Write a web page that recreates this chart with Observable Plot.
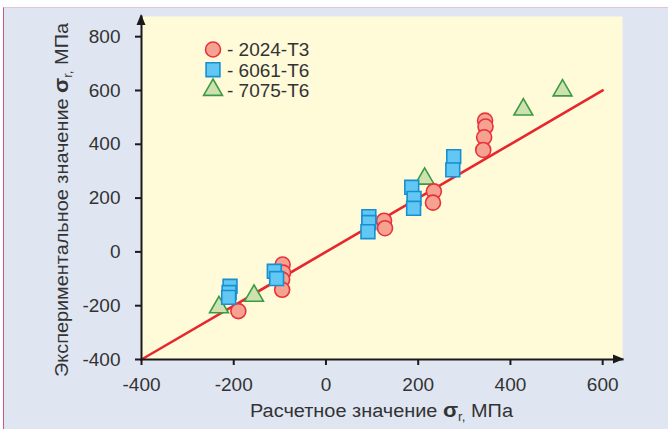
<!DOCTYPE html>
<html><head><meta charset="utf-8">
<script src="https://cdn.jsdelivr.net/npm/d3@7"></script>
<script src="https://cdn.jsdelivr.net/npm/@observablehq/plot@0.6"></script>
<style>
html,body{margin:0;padding:0;background:#fff;}
#wrap{position:relative;width:668px;height:429px;overflow:hidden;}
#panel{position:absolute;left:3px;top:7px;right:0;bottom:0;background:#dfe6f2;border-left:1.5px solid #c9577f;border-top:1px solid #e3c6d4;}
#chart{position:absolute;left:0;top:0;}
</style></head><body>
<div id="wrap"><div id="panel"></div><div id="chart"></div></div>
<script>
// ---- data (calculated vs experimental stress, MPa) ----
const alloys = ["2024-T3", "6061-T6", "7075-T6"];
const calc2024 = [-190, -94, -93, -95, -95, 126, 128, 234, 232, 345, 346, 343, 341];
const exp2024  = [-220, -47, -77, -103, -141, 116, 88, 225, 183, 488, 466, 426, 379];
const calc6061 = [-208, -210, -211, -112, -107, 93, 93, 91, 186, 191, 190, 277, 275];
const exp6061  = [-128, -151, -169, -72, -99, 131, 109, 75, 240, 199, 162, 354, 305];
const calc7075 = [-232, -156, 214, 428, 513];
const exp7075  = [-206, -163, 272, 529, 600];
const fitLine = [-400, 600];
const xTicks = [-400, -200, 0, 200, 400, 600];
const yTicks = [-400, -200, 0, 200, 400, 600, 800];
const xTitle = "Расчетное значение ";
const yTitle = "Экспериментальное значение ";
const sigmaSym = "σ", sigmaSub = "r", unit = " МПа";

const rows = (xs, ys) => xs.map((x, i) => ({x, y: ys[i]}));
const d2024 = rows(calc2024, exp2024);
const d6061 = rows(calc6061, exp6061);
const d7075 = rows(calc7075, exp7075);

const sty = {
  "2024-T3": {symbol: "circle", r: 7.5, fill: "#f6a290", stroke: "#e8313b"},
  "6061-T6": {symbol: "square", r: 7.8, fill: "#62c8f3", stroke: "#168fd3"},
  "7075-T6": {symbol: "triangle", r: 7.0, fill: "#cde2ae", stroke: "#3c9a45"}
};

const chart = Plot.plot({
  width: 668, height: 429,
  marginLeft: 141, marginRight: 46, marginTop: 16, marginBottom: 70,
  x: {domain: [-400, 643]},
  y: {domain: [-400, 875]},
  style: {background: "transparent", fontFamily: "'Liberation Sans', Arial, sans-serif", color: "#333"},
  marks: [
    Plot.frame({fill: "#fffbd9", stroke: null}),
    Plot.line(fitLine, {x: d => d, y: d => d, stroke: "#e8262d", strokeWidth: 2.6}),
    Plot.axisX({ticks: xTicks, tickSize: 6, tickPadding: 12, fontSize: 19, label: null, stroke: "#1a1a1a", strokeWidth: 2, tickFormat: d => String(d).replace("−", "-")}),
    Plot.axisY({ticks: yTicks, tickSize: 6, tickPadding: 15, fontSize: 19, label: null, stroke: "#1a1a1a", strokeWidth: 2, tickFormat: d => String(d).replace("−", "-")}),
    Plot.frame({anchor: "bottom", stroke: "#1a1a1a", strokeWidth: 2}),
    Plot.frame({anchor: "left", stroke: "#1a1a1a", strokeWidth: 2}),
    Plot.dot(d7075, {x: "x", y: "y", ...sty["7075-T6"], strokeWidth: 1.6}),
    Plot.dot(d2024, {x: "x", y: "y", ...sty["2024-T3"], strokeWidth: 1.6}),
    Plot.dot(d6061, {x: "x", y: "y", ...sty["6061-T6"], strokeWidth: 1.6})
  ]
});
document.getElementById("chart").appendChild(chart);

const svg = d3.select(chart);
const [xl, xr] = chart.scale("x").range;
const [yb, yt] = chart.scale("y").range;
// axis arrow heads
svg.append("path").attr("d", `M${xl},${yt - 2} L${xl - 4.5},${yt + 9} L${xl + 4.5},${yt + 9} Z`).attr("fill", "#1a1a1a");
svg.append("path").attr("d", `M${xr + 2},${yb} L${xr - 9},${yb - 4.5} L${xr - 9},${yb + 4.5} Z`).attr("fill", "#1a1a1a");

// legend
const symMap = {circle: d3.symbolCircle, square: d3.symbolSquare, triangle: d3.symbolTriangle};
const lg = svg.append("g").attr("transform", "translate(213,49.5)");
alloys.forEach((name, i) => {
  const s = sty[name];
  const yy = i * 20.2;
  lg.append("path")
    .attr("d", d3.symbol(symMap[s.symbol], Math.PI * s.r * s.r)())
    .attr("transform", `translate(0,${yy})`)
    .attr("fill", s.fill).attr("stroke", s.stroke).attr("stroke-width", 1.6);
  lg.append("text").attr("x", 14).attr("y", yy + 6.8)
    .attr("text-anchor", "start")
    .attr("font-size", 19).attr("fill", "#333")
    .attr("font-family", "'Liberation Sans', Arial, sans-serif")
    .text("- " + name);
});

// axis titles with sigma subscript
function title(sel, main, len) {
  const t = sel.append("text").attr("font-size", 18).attr("fill", "#333")
    .attr("font-family", "'Liberation Sans', Arial, sans-serif")
    .attr("text-anchor", "middle")
    .attr("textLength", len).attr("lengthAdjust", "spacingAndGlyphs");
  t.append("tspan").text(main);
  t.append("tspan").attr("font-weight", "bold").attr("font-size", 20).text(sigmaSym);
  t.append("tspan").attr("font-size", 12).attr("dy", 4).text(sigmaSub + ",");
  t.append("tspan").attr("dy", -4).text(unit);
  return t;
}
title(svg.append("g").attr("transform", `translate(${(xl + xr) / 2},417)`), xTitle, 263);
title(svg.append("g").attr("transform", "translate(68,200) rotate(-90)"), yTitle, 354);
</script>
</body></html>
